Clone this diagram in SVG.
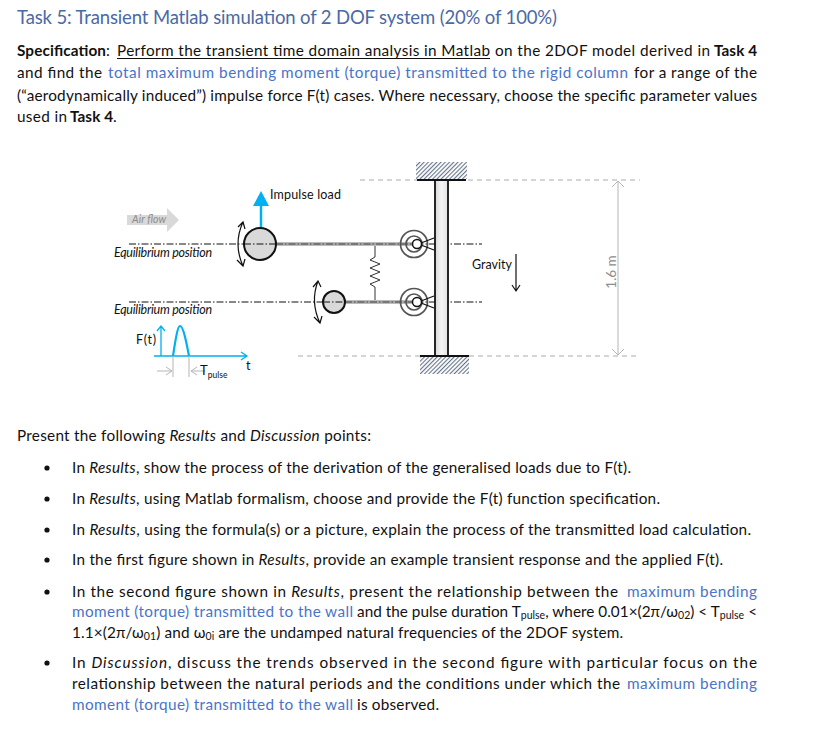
<svg xmlns="http://www.w3.org/2000/svg" width="820" height="740" viewBox="0 0 820 740">
<style>
text{font-family:Lato,"Liberation Sans",sans-serif;fill:#111}
.b{font-size:15.3px}
.h{fill:#4a6aa5;font-size:18.5px}
.u{fill:#4a74c9}
.st{font-weight:700}
.i{font-style:italic}
.sub{font-size:10.5px}
.lab{font-size:12.5px}
.eq{font-size:12.5px;font-style:italic}
.grey{fill:#8c8c8c}
.dd{fill:none;stroke:#111;stroke-width:1;stroke-dasharray:7 2 1.5 2}
.dr{fill:none;stroke:#333;stroke-width:.8;stroke-dasharray:7 2 1.5 2}
.gd{fill:none;stroke:#c8c8c8;stroke-width:1.3;stroke-dasharray:5 4}
.rod{stroke:#a6a6a6;stroke-width:3.5;fill:none}
.ball{fill:#d9d9d9;stroke:#111;stroke-width:2}
.ln{fill:none;stroke:#111;stroke-width:1.2}
.bl{fill:none;stroke:#00b0f0;stroke-width:1.3}
.g{fill:none;stroke:#b5b5b5;stroke-width:1}
.ring{fill:none;stroke:#555;stroke-width:1.7}
</style>
<defs>
<pattern id="hatch" width="3" height="3" patternUnits="userSpaceOnUse" patternTransform="rotate(45)"><rect width="3" height="3" fill="#fff"/><rect width="1.1" height="3" fill="#66758a"/></pattern>
<linearGradient id="wall" x1="0" x2="1" y1="0" y2="0"><stop offset="0" stop-color="#d8d8d8"/><stop offset=".5" stop-color="#f6f6f6"/><stop offset="1" stop-color="#e2e2e2"/></linearGradient>
</defs>
<rect width="820" height="740" fill="#fff"/>
<g id="heading"><text class="h" x="17" y="24" textLength="540">Task 5: Transient Matlab simulation of 2 DOF system (20% of 100%)</text></g>
<g id="specification">
<text class="b st" x="17" y="56" textLength="89">Specification</text>
<text class="b" x="106" y="56">:</text>
<text class="b" x="117" y="56" textLength="373">Perform the transient time domain analysis in Matlab</text>
<path d="M117 58.5H490" stroke="#111" stroke-width="1.1"/>
<text class="b" x="495" y="56" textLength="215">on the 2DOF model derived in</text>
<text class="b st" x="714" y="56" textLength="43">Task 4</text>
<text class="b" x="17" y="78" textLength="85">and find the</text>
<text class="b u" x="108" y="78" textLength="520">total maximum bending moment (torque) transmitted to the rigid column</text>
<text class="b" x="634" y="78" textLength="123">for a range of the</text>
<text class="b" x="17" y="101" textLength="740">(“aerodynamically induced”) impulse force F(t) cases. Where necessary, choose the specific parameter values</text>
<text class="b" x="17" y="122" textLength="50">used in</text>
<text class="b st" x="70" y="122" textLength="43">Task 4</text>
<text class="b" x="113" y="122">.</text>
</g>
<g id="connectors">
<path class="gd" d="M360 180H640M298 356H640"/>
<path class="dd" d="M129 244H482M129 302H482"/>
<path class="rod" d="M276 244H414M345 302H414"/>
<path class="dr" d="M276 244H414M345 302H414"/>
<path fill="none" stroke="#333" stroke-width="1" d="M375 246V257l-5 3 10 4-10 4 10 4-10 4 10 4-10 4 5 3V300"/>
<path class="g" d="M618 181V355M612 187l6-6 6 6M612 349l6 6 6-6"/>
<path class="ln" d="M243 222Q233 244 243 266M238 227l5-5 2 7M237 260l6 6 2-7"/>
<path class="ln" d="M318 281Q310 302 320 323M313 287l5-6 3 6M314 317l6 6 2-7"/>
<path class="ln" d="M516 254V291M512 285l4 6 4-6"/>
<path stroke="#00b0f0" stroke-width="2.5" fill="none" d="M261 228V205"/>
<path fill="#00b0f0" d="M261 191l8 15h-16z"/>
<path class="bl" d="M161 356V326M157 331l4-5 4 5M154 356H247M241 352l6 4-6 4"/>
<path stroke="#00b0f0" stroke-width="2.2" fill="none" d="M173 356C176 336 178 326 180 326C183 326 186 340 189 356"/>
<path class="g" d="M173 356V377M189 356V377M157 371H172M166 367l6 4-6 4M205 371H191M197 367l-6 4 6 4"/>
</g>
<g id="air-flow"><path fill="#d9d9d9" d="M127 215H167V208L179 220 167 232V225H127z"/><text class="i" x="132" y="223" font-size="10.5" style="fill:#8c8c8c" textLength="34">Air flow</text></g>
<g id="mass-upper"><circle class="ball" cx="260" cy="244" r="16"/><path class="dd" d="M244 244H276"/></g>
<g id="mass-lower"><circle class="ball" cx="334" cy="302" r="11"/><path class="dd" d="M323 302H345"/></g>
<g id="column"><rect x="435" y="180" width="13" height="176" fill="url(#wall)" stroke="#111" stroke-width="1.8"/></g>
<g id="support-top"><rect x="416" y="162" width="51" height="17" fill="url(#hatch)"/><path stroke="#111" stroke-width="2" d="M417 180H466"/></g>
<g id="support-bottom"><rect x="420" y="357" width="49" height="17" fill="url(#hatch)"/><path stroke="#111" stroke-width="2" d="M420 356H469"/></g>
<g id="hinge-upper"><circle class="ring" cx="414" cy="244" r="13.5"/><circle class="ring" cx="414" cy="244" r="8"/><path class="ln" d="M434 238L421 243M434 250L421 245"/><circle cx="417" cy="244" r="4.5" fill="#fff" stroke="#111" stroke-width="1.5"/></g>
<g id="hinge-lower"><circle class="ring" cx="414" cy="302" r="13.5"/><circle class="ring" cx="414" cy="302" r="8"/><path class="ln" d="M434 296L421 301M434 308L421 303"/><circle cx="417" cy="302" r="4.5" fill="#fff" stroke="#111" stroke-width="1.5"/></g>
<g id="diagram-labels">
<text class="lab" x="270" y="199" textLength="71">Impulse load</text>
<text class="eq" x="114" y="257" textLength="98">Equilibrium position</text>
<text class="eq" x="114" y="314" textLength="98">Equilibrium position</text>
<text class="lab" x="136" y="344" textLength="20">F(t)</text>
<text class="lab" x="246" y="370">t</text>
<text font-size="13" x="200" y="375">T<tspan font-size="8.5" dy="3">pulse</tspan></text>
<text class="lab" x="472" y="269" textLength="40">Gravity</text>
<text class="grey" font-size="13.5" transform="translate(615.5 272) rotate(-90)" text-anchor="middle">1.6 m</text>
</g>
<g id="results-discussion">
<text class="b" x="17" y="441" textLength="354">Present the following <tspan class="i">Results</tspan> and <tspan class="i">Discussion</tspan> points:</text>
<g fill="#111"><circle cx="47" cy="468" r="2.6"/><circle cx="47" cy="499" r="2.6"/><circle cx="47" cy="530" r="2.6"/><circle cx="47" cy="560" r="2.6"/><circle cx="47" cy="592" r="2.6"/><circle cx="47" cy="663" r="2.6"/></g>
<text class="b" x="72" y="473" textLength="559">In <tspan class="i">Results</tspan>, show the process of the derivation of the generalised loads due to F(t).</text>
<text class="b" x="72" y="504" textLength="588">In <tspan class="i">Results</tspan>, using Matlab formalism, choose and provide the F(t) function specification.</text>
<text class="b" x="72" y="535" textLength="679">In <tspan class="i">Results</tspan>, using the formula(s) or a picture, explain the process of the transmitted load calculation.</text>
<text class="b" x="72" y="565" textLength="651">In the first figure shown in <tspan class="i">Results</tspan>, provide an example transient response and the applied F(t).</text>
<text class="b" x="72" y="597" textLength="546">In the second figure shown in <tspan class="i">Results</tspan>, present the relationship between the</text>
<text class="b u" x="627" y="597" textLength="130">maximum bending</text>
<text class="b u" x="72" y="617" textLength="281">moment (torque) transmitted to the wall</text>
<text class="b" x="357" y="617" textLength="400">and the pulse duration T<tspan class="sub" dy="2">pulse</tspan><tspan dy="-2">, where 0.01×(2π/ω</tspan><tspan class="sub" dy="2">02</tspan><tspan dy="-2">) &lt; T</tspan><tspan class="sub" dy="2">pulse</tspan><tspan dy="-2"> &lt;</tspan></text>
<text class="b" x="72" y="638" textLength="551">1.1×(2π/ω<tspan class="sub" dy="2">01</tspan><tspan dy="-2">) and ω</tspan><tspan class="sub" dy="2">0i</tspan><tspan dy="-2"> are the undamped natural frequencies of the 2DOF system.</tspan></text>
<text class="b" x="72" y="668" textLength="685">In <tspan class="i">Discussion</tspan>, discuss the trends observed in the second figure with particular focus on the</text>
<text class="b" x="72" y="689" textLength="548">relationship between the natural periods and the conditions under which the</text>
<text class="b u" x="627" y="689" textLength="130">maximum bending</text>
<text class="b u" x="72" y="710" textLength="281">moment (torque) transmitted to the wall</text>
<text class="b" x="357" y="710" textLength="82">is observed.</text>
</g>
</svg>
